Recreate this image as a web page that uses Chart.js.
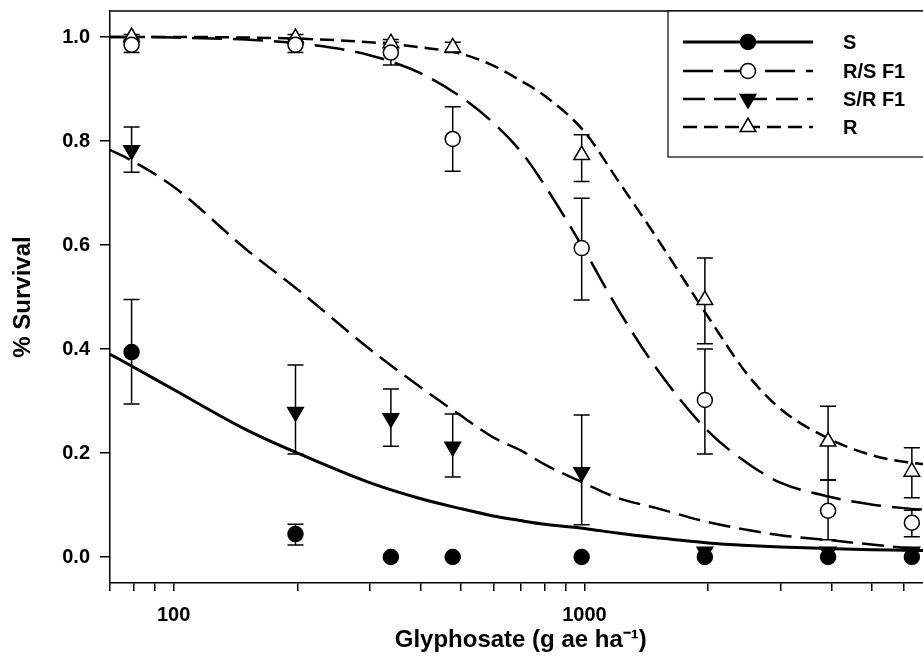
<!DOCTYPE html>
<html><head><meta charset="utf-8">
<script src="https://cdn.jsdelivr.net/npm/chart.js@4.4.0/dist/chart.umd.min.js"></script>
<style>
html,body{margin:0;padding:0;overflow:hidden;background:#fff;width:923px;height:665px;}
#wrap{position:relative;width:942px;height:665px;}
</style></head><body>
<div id="wrap"><canvas id="c"></canvas></div>
<script>
// ---- data ----
const seriesNames = ['S', 'R/S F1', 'S/R F1', 'R'];
const doses = [79, 198, 338, 478, 985, 1965, 3920, 6270];

const sMean  = [0.394, 0.044, 0, 0, 0, 0, 0, 0];
const sLow   = [0.294, 0.023, null, null, null, null, null, null];
const sHigh  = [0.495, 0.063, null, null, null, null, null, null];

const rsMean = [0.985, 0.985, 0.97, 0.804, 0.594, 0.302, 0.089, 0.066];
const rsLow  = [0.97, 0.97, 0.946, 0.742, 0.494, 0.198, 0.033, 0.039];
const rsHigh = [0.995, 0.995, 0.99, 0.866, 0.69, 0.40, 0.148, 0.09];

const srMean = [0.782, 0.279, 0.267, 0.212, 0.163, 0.01, 0.01, 0.01];
const srLow  = [0.74, 0.198, 0.213, 0.154, 0.062, null, null, null];
const srHigh = [0.827, 0.369, 0.323, 0.275, 0.273, null, null, null];

const rMean  = [1.0, 0.998, 0.988, 0.98, 0.773, 0.494, 0.222, 0.164];
const rLow   = [0.99, 0.99, 0.975, 0.97, 0.722, 0.41, 0.148, 0.114];
const rHigh  = [1.005, 1.005, 0.995, 0.99, 0.812, 0.575, 0.29, 0.21];

// fitted curves, read at these doses
const curveX  = [70, 80, 100, 150, 200, 300, 400, 500, 600, 700, 800, 1000, 1200, 1500, 2000, 2500, 3000, 4000, 5000, 6000, 7000];
const sCurve  = [0.39, 0.365, 0.322, 0.245, 0.2, 0.143, 0.112, 0.093, 0.079, 0.07, 0.063, 0.055, 0.046, 0.037, 0.027, 0.022, 0.019, 0.016, 0.014, 0.013, 0.012];
const rsCurve = [1.0, 1.0, 0.999, 0.995, 0.988, 0.965, 0.93, 0.885, 0.835, 0.78, 0.715, 0.59, 0.48, 0.362, 0.242, 0.18, 0.143, 0.115, 0.101, 0.094, 0.09];
const srCurve = [0.783, 0.76, 0.712, 0.592, 0.515, 0.40, 0.326, 0.272, 0.23, 0.205, 0.178, 0.142, 0.114, 0.094, 0.067, 0.052, 0.042, 0.032, 0.024, 0.018, 0.015];
const rCurve  = [1.0, 1.0, 1.0, 0.999, 0.997, 0.99, 0.98, 0.968, 0.945, 0.916, 0.887, 0.818, 0.727, 0.614, 0.462, 0.35, 0.285, 0.225, 0.196, 0.183, 0.177];

const xTicks = [70, 80, 90, 100, 200, 300, 400, 500, 600, 700, 800, 900, 1000, 2000, 3000, 4000, 5000, 6000, 7000];
const xLabeled = [100, 1000];
const yTicks = [0, 0.2, 0.4, 0.6, 0.8, 1.0];
const xTitle = 'Glyphosate (g ae ha\u207B\u00B9)';
const yTitle = '% Survival';

// ---- build ----
const pts = (ys) => doses.map((d, i) => ({x: d, y: ys[i]}));
const crv = (ys) => curveX.map((d, i) => ({x: d, y: ys[i]}));
const FONT = "'Liberation Sans', Arial, sans-serif";

const styles = [
  {dash: [], width: 3, point: 'circle', fill: '#000', r: 7.5, rot: 0},
  {dash: [30, 11], width: 2.5, point: 'circle', fill: '#fff', r: 7.5, rot: 0},
  {dash: [22, 9], width: 2.5, point: 'triangle', fill: '#000', r: 9, rot: 180},
  {dash: [14, 7], width: 2.5, point: 'triangle', fill: '#fff', r: 9, rot: 0}
];
const means = [sMean, rsMean, srMean, rMean];
const lows = [sLow, rsLow, srLow, rLow];
const highs = [sHigh, rsHigh, srHigh, rHigh];
const curves = [sCurve, rsCurve, srCurve, rCurve];

const datasets = [];
seriesNames.forEach((name, k) => {
  datasets.push({
    label: name, data: pts(means[k]), showLine: false,
    pointStyle: styles[k].point, pointRotation: styles[k].rot,
    pointRadius: styles[k].r, pointBackgroundColor: styles[k].fill,
    pointBorderColor: '#000', pointBorderWidth: 1.5,
    errLow: lows[k], errHigh: highs[k]
  });
});
seriesNames.forEach((name, k) => {
  datasets.push({
    label: name + ' fit', data: crv(curves[k]), showLine: true,
    borderColor: '#000', borderWidth: styles[k].width, borderDash: styles[k].dash,
    pointRadius: 0, cubicInterpolationMode: 'monotone', fill: false
  });
});

const errorBars = {
  id: 'errorBars',
  beforeDatasetsDraw(chart) {
    const ctx = chart.ctx, xs = chart.scales.x, ys = chart.scales.y;
    ctx.save();
    ctx.strokeStyle = '#000'; ctx.lineWidth = 1.5;
    chart.data.datasets.forEach(ds => {
      if (!ds.errLow) return;
      ds.data.forEach((p, i) => {
        const lo = ds.errLow[i], hi = ds.errHigh[i];
        if (lo == null || hi == null) return;
        const px = xs.getPixelForValue(p.x);
        const y1 = ys.getPixelForValue(lo), y2 = ys.getPixelForValue(hi);
        ctx.beginPath();
        ctx.moveTo(px, y1); ctx.lineTo(px, y2);
        ctx.moveTo(px - 8, y1); ctx.lineTo(px + 8, y1);
        ctx.moveTo(px - 8, y2); ctx.lineTo(px + 8, y2);
        ctx.stroke();
      });
    });
    ctx.restore();
  }
};

const frameAndLegend = {
  id: 'frameAndLegend',
  afterDraw(chart) {
    const ctx = chart.ctx, a = chart.chartArea;
    ctx.save();
    ctx.strokeStyle = '#000'; ctx.lineWidth = 1.5;
    ctx.beginPath();
    ctx.moveTo(a.left, a.top); ctx.lineTo(a.right, a.top); ctx.lineTo(a.right, a.bottom);
    ctx.stroke();
    // legend box anchored to the plot's top-right corner
    const bx = 668, by = a.top, bw = a.right - bx, bh = 146;
    ctx.fillStyle = '#fff';
    ctx.fillRect(bx, by, bw, bh);
    ctx.lineWidth = 1.2;
    ctx.strokeRect(bx, by, bw, bh);
    const rowsY = [42, 71, 99, 127];
    seriesNames.forEach((name, k) => {
      const y = rowsY[k];
      ctx.save();
      ctx.lineWidth = styles[k].width; ctx.strokeStyle = '#000';
      ctx.setLineDash(styles[k].dash);
      ctx.beginPath(); ctx.moveTo(683, y); ctx.lineTo(813, y); ctx.stroke();
      ctx.restore();
      ctx.fillStyle = styles[k].fill; ctx.strokeStyle = '#000'; ctx.lineWidth = 1.5;
      ctx.beginPath();
      if (styles[k].point === 'circle') {
        ctx.arc(748, y, styles[k].r, 0, Math.PI * 2);
      } else {
        const r = styles[k].r, rad = styles[k].rot * Math.PI / 180;
        for (let j = 0; j < 3; j++) {
          const t = rad + j * 2 * Math.PI / 3;
          const px = 748 + Math.sin(t) * r, py = y - Math.cos(t) * r;
          if (j === 0) ctx.moveTo(px, py); else ctx.lineTo(px, py);
        }
        ctx.closePath();
      }
      ctx.fill(); ctx.stroke();
      ctx.fillStyle = '#000';
      ctx.font = 'bold 20px ' + FONT;
      ctx.textBaseline = 'middle'; ctx.textAlign = 'left';
      ctx.fillText(name, 843, y + 1);
    });
    ctx.restore();
  }
};

new Chart(document.getElementById('c'), {
  type: 'scatter',
  data: {datasets},
  options: {
    responsive: true, maintainAspectRatio: false, animation: false,
    layout: {padding: {top: 11, right: 9, left: 0, bottom: 0}},
    plugins: {legend: {display: false}, tooltip: {enabled: false}},
    scales: {
      x: {
        type: 'logarithmic', min: 70, max: 7000,
        afterBuildTicks: s => { s.ticks = xTicks.map(v => ({value: v})); },
        afterFit: s => { s.height = 82; s.paddingLeft = 0; s.paddingRight = 0; },
        ticks: {autoSkip: false, maxRotation: 0, minRotation: 0, padding: 12, color: '#000',
          font: {family: FONT, weight: 'bold', size: 20},
          callback: v => xLabeled.includes(v) ? String(v) : ''},
        grid: {drawOnChartArea: false, tickLength: 8, color: '#000', lineWidth: 1.5},
        border: {color: '#000', width: 1.5},
        title: {display: true, text: xTitle, color: '#000',
          font: {family: FONT, weight: 'bold', size: 24}, padding: {top: 0, bottom: 10}}
      },
      y: {
        type: 'linear', min: -0.05, max: 1.05,
        afterBuildTicks: s => { s.ticks = yTicks.map(v => ({value: v})); },
        afterFit: s => { s.width = 110; s.paddingTop = 0; s.paddingBottom = 0; },
        ticks: {padding: 10, color: '#000', font: {family: FONT, weight: 'bold', size: 20},
          callback: v => Number(v).toFixed(1)},
        grid: {drawOnChartArea: false, tickLength: 10, color: '#000', lineWidth: 1.5},
        border: {color: '#000', width: 1.5},
        title: {display: true, text: yTitle, color: '#000',
          font: {family: FONT, weight: 'bold', size: 24}, padding: {top: 9, bottom: 0}}
      }
    }
  },
  plugins: [errorBars, frameAndLegend]
});
</script>
</body></html>
